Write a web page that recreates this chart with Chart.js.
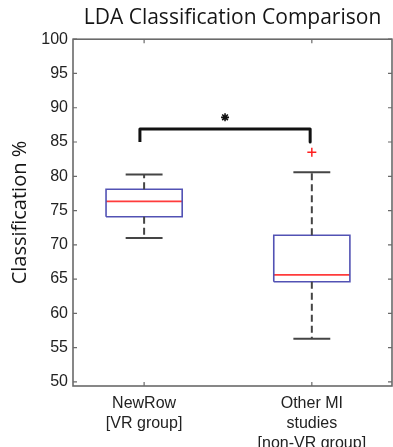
<!DOCTYPE html>
<html>
<head>
<meta charset="utf-8">
<script src="https://cdn.jsdelivr.net/npm/chart.js@4/dist/chart.umd.min.js"></script>
<style>
  html, body { margin: 0; padding: 0; background: #fff; }
  #wrap { width: 393px; height: 447px; }
</style>
</head>
<body>
<div id="wrap"><canvas id="canvas" width="393" height="447"></canvas></div>
<script>
// values
var categories = [['NewRow', '[VR group]'], ['Other MI', 'studies', '[non-VR group]']];
var lowerWhisker = [71.0, 56.3];
var q1 = [74.1, 64.6];
var median = [76.35, 65.6];
var q3 = [78.1, 71.4];
var upperWhisker = [80.25, 80.6];
var outliers = [[], [83.5]];
var yTicks = [50, 55, 60, 65, 70, 75, 80, 85, 90, 95, 100];

// significance bracket
var bracketX = [0.975, 1.99];
var bracketBase = 85;
var bracketTop = 86.9;
var starY = 88.6;

var BOX_HALF = 0.227;
var CAP_HALF = 0.11;

function seg(points, color, width, dash) {
   return {
      data: points,
      showLine: true,
      borderColor: color,
      borderWidth: width,
      borderDash: dash || [],
      pointRadius: 0,
      fill: false
   };
}

function buildDatasets() {
   var sets = [];
   for (var i = 0; i < categories.length; i++) {
      var pos = i + 1;
      // whiskers
      sets.push(seg([{x: pos, y: q3[i]}, {x: pos, y: upperWhisker[i]}], '#454545', 2, [7, 4]));
      sets.push(seg([{x: pos, y: q1[i]}, {x: pos, y: lowerWhisker[i]}], '#454545', 2, [7, 4]));
      // caps
      sets.push(seg([{x: pos - CAP_HALF, y: upperWhisker[i]}, {x: pos + CAP_HALF, y: upperWhisker[i]}], '#454545', 2));
      sets.push(seg([{x: pos - CAP_HALF, y: lowerWhisker[i]}, {x: pos + CAP_HALF, y: lowerWhisker[i]}], '#454545', 2));
      // box
      sets.push(seg([
         {x: pos - BOX_HALF, y: q1[i]}, {x: pos + BOX_HALF, y: q1[i]},
         {x: pos + BOX_HALF, y: q3[i]}, {x: pos - BOX_HALF, y: q3[i]},
         {x: pos - BOX_HALF, y: q1[i]}
      ], '#5252b4', 1.6));
      // median
      sets.push(seg([{x: pos - BOX_HALF, y: median[i]}, {x: pos + BOX_HALF, y: median[i]}], '#ff3b3b', 1.8));
      // outliers
      if (outliers[i].length) {
         sets.push({
            data: outliers[i].map(function (v) { return {x: pos, y: v}; }),
            showLine: false,
            pointStyle: 'cross',
            pointRadius: 4.5,
            borderColor: '#ff2020',
            borderWidth: 1.5
         });
      }
   }
   // bracket + star
   var bracket = seg([
      {x: bracketX[0], y: bracketBase}, {x: bracketX[0], y: bracketTop},
      {x: bracketX[1], y: bracketTop}, {x: bracketX[1], y: bracketBase}
   ], '#111', 3);
   bracket.borderJoinStyle = 'round';
   sets.push(bracket);
   sets.push({
      data: [{x: (bracketX[0] + bracketX[1]) / 2, y: starY}],
      showLine: false,
      pointStyle: 'star',
      pointRadius: 4,
      borderColor: '#111',
      borderWidth: 1.6
   });
   return sets;
}

// box frame with inward ticks, like the original figure
var framePlugin = {
   id: 'frame',
   afterDraw: function (chart) {
      var ctx = chart.ctx;
      var a = chart.chartArea;
      var xs = chart.scales.x, ys = chart.scales.y;
      ctx.save();
      ctx.strokeStyle = '#6a6a6a';
      ctx.lineWidth = 1.6;
      ctx.strokeRect(a.left, a.top, a.right - a.left, a.bottom - a.top);
      ctx.lineWidth = 1.2;
      ctx.beginPath();
      yTicks.forEach(function (v) {
         var y = ys.getPixelForValue(v);
         ctx.moveTo(a.left, y); ctx.lineTo(a.left + 4, y);
         ctx.moveTo(a.right, y); ctx.lineTo(a.right - 4, y);
      });
      categories.forEach(function (c, i) {
         var x = xs.getPixelForValue(i + 1);
         ctx.moveTo(x, a.top); ctx.lineTo(x, a.top + 4);
         ctx.moveTo(x, a.bottom); ctx.lineTo(x, a.bottom - 4);
      });
      ctx.stroke();
      ctx.restore();
   }
};

var config = {
   type: 'scatter',
   data: { datasets: buildDatasets() },
   options: {
      responsive: false,
      animation: false,
      layout: { autoPadding: false, padding: { left: 0, right: 1, top: 0, bottom: 0 } },
      plugins: {
         legend: { display: false },
         tooltip: { enabled: false },
         title: {
            display: true,
            text: 'LDA Classification Comparison',
            fullSize: false,
            color: '#151515',
            font: { family: 'Open Sans', size: 21, weight: 'normal', lineHeight: 1.2 },
            padding: { top: 5, bottom: 9 }
         }
      },
      scales: {
         x: {
            type: 'linear',
            min: 0.576,
            max: 2.478,
            afterBuildTicks: function (scale) {
               scale.ticks = categories.map(function (c, i) { return {value: i + 1}; });
            },
            afterFit: function (scale) {
               scale.height = 61;
               scale.paddingLeft = 0;
               scale.paddingRight = 0;
            },
            grid: { display: false, drawTicks: false },
            border: { display: false },
            ticks: {
               padding: 8,
               color: '#222',
               font: { family: 'Liberation Sans', size: 16, lineHeight: 1.25 },
               maxRotation: 0,
               autoSkip: false,
               callback: function (v) { return categories[v - 1]; }
            }
         },
         y: {
            min: 49.4,
            max: 100,
            afterBuildTicks: function (scale) {
               scale.ticks = yTicks.map(function (v) { return {value: v}; });
            },
            afterFit: function (scale) { scale.width = 73; },
            grid: { display: false, drawTicks: false },
            border: { display: false },
            ticks: {
               padding: 5,
               color: '#222',
               font: { family: 'Liberation Sans', size: 16 }
            },
            title: {
               display: true,
               text: 'Classification %',
               color: '#151515',
               font: { family: 'Open Sans', size: 20 },
               padding: { top: 8, bottom: 0 }
            }
         }
      }
   },
   plugins: [framePlugin]
};

window.boxChart = new Chart(document.getElementById('canvas'), config);
</script>
</body>
</html>
